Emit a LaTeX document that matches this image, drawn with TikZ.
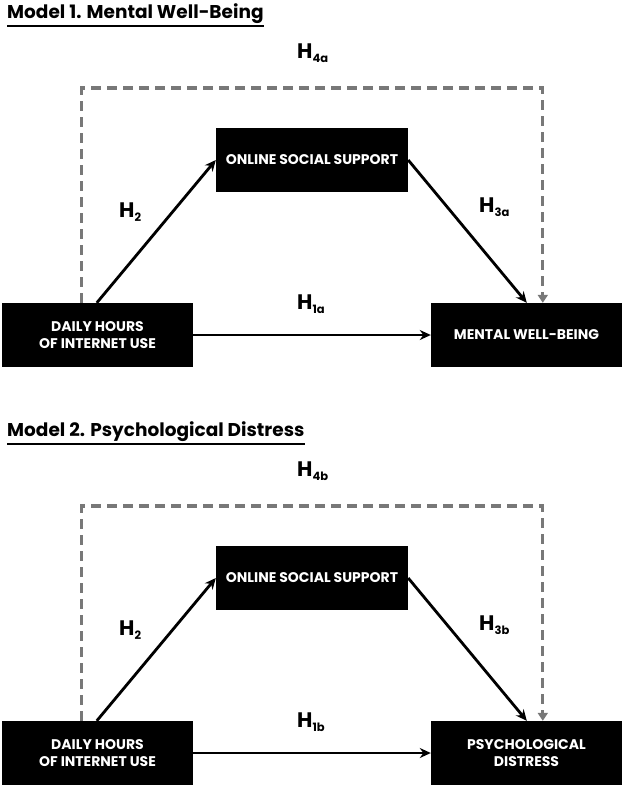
\documentclass[tikz,border=0pt]{standalone}
\usepackage{fontspec}
\setmainfont{Poppins}
\usetikzlibrary{arrows.meta,calc}
\definecolor{dashgray}{RGB}{120,120,120}
\tikzset{
  boxnode/.style={fill=black, text=white, inner sep=0pt, align=center,
    font=\fontsize{14}{17}\selectfont\bfseries, minimum height=64pt},
  solidarrow/.style={line width=2.8pt, draw=black, -{Stealth[length=11pt,width=10pt]}},
  dasharrow/.style={line width=3.2pt, draw=dashgray, dash pattern=on 10pt off 6pt,
    -{Triangle[length=8pt,width=10pt]}},
  hlabel/.style={inner sep=0pt, font=\fontsize{21}{21}\selectfont\bfseries},
  titlenode/.style={inner sep=0pt, anchor=base west, font=\fontsize{18.5}{18.5}\selectfont\bfseries},
}
\newcommand{\hyp}[2]{H\raisebox{-3.5pt}{\fontsize{11.5}{11.5}\selectfont #2}}
\begin{document}
\begin{tikzpicture}[x=1pt,y=-1pt]
\useasboundingbox (0,0) rectangle (624,788);
\foreach \off/\m/\tt/\out/\sa/\sb/\sc/\sd in {
  0/1/{Model 1. Mental Well-Being}/{MENTAL WELL-BEING}/1a/2/3a/4a,
  418/2/{Model 2. Psychological Distress}/{PSYCHOLOGICAL\\DISTRESS}/1b/2/3b/4b} {
  \begin{scope}[yshift=-\off pt]
  \node[titlenode] (title\m) at (7,18) {\tt};
  \draw[line width=2.2pt] ([yshift=-8pt]title\m.base west) -- ([yshift=-8pt]title\m.base east);
  \node[boxnode, minimum width=191pt] (daily\m) at (97.5,335) {DAILY HOURS\\OF INTERNET USE};
  \node[boxnode, minimum width=192pt] (online\m) at (312,160) {ONLINE SOCIAL SUPPORT};
  \node[boxnode, minimum width=191pt] (outcome\m) at (526.5,335) {\out};
  \coordinate (top\m) at (82,88);
  \draw[solidarrow] ([xshift=95pt]daily\m.north west) -- (online\m.west);
  \draw[solidarrow] (online\m.east) -- ([xshift=96pt]outcome\m.north west);
  \draw[solidarrow] (daily\m.east) -- (outcome\m.west);
  \draw[dasharrow] ([xshift=80pt]daily\m.north west) |- (top\m) -| ([xshift=112pt]outcome\m.north west);
  \node[hlabel, anchor=west] (hfour\m) at (297,53) {\hyp{}{\sd}};
  \node[hlabel, anchor=west] (hone\m) at (297,304) {\hyp{}{\sa}};
  \node[hlabel, anchor=west] (htwo\m) at (119,212) {\hyp{}{\sb}};
  \node[hlabel, anchor=west] (hthree\m) at (479,207) {\hyp{}{\sc}};
  \end{scope}
}
\end{tikzpicture}
\end{document}
